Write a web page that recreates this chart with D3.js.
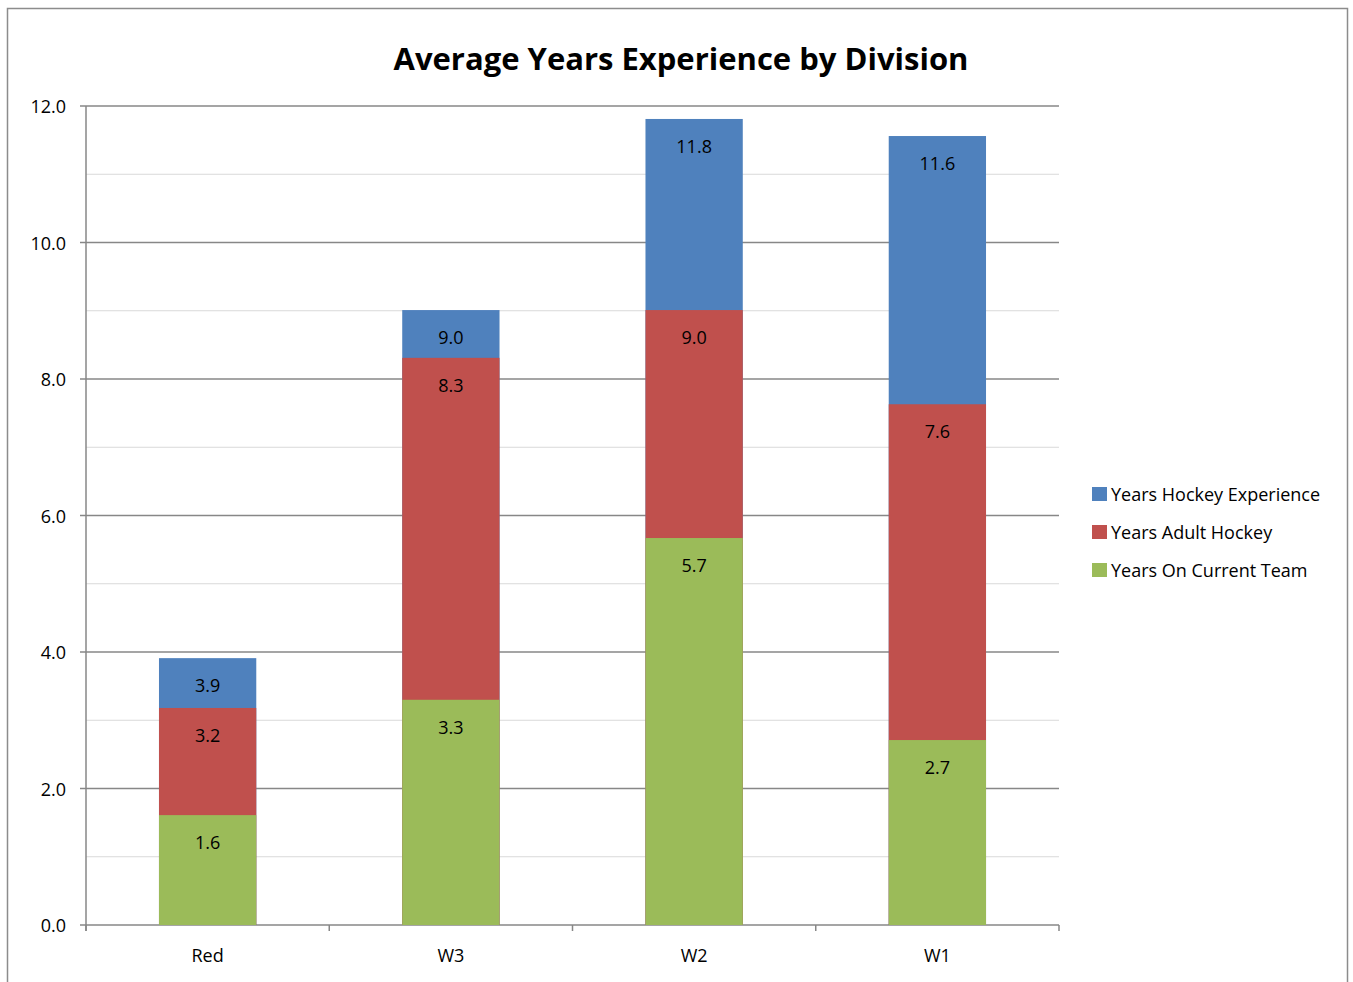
<!DOCTYPE html>
<html>
<head>
<meta charset="utf-8">
<script src="https://cdn.jsdelivr.net/npm/d3@7"></script>
<style>
  body { margin: 0; background: #fff; }
  svg { font-family: "Open Sans", Lato, sans-serif; }
</style>
</head>
<body>
<svg id="chart" width="1353" height="982"></svg>
<script>
const divisions = ["Red", "W3", "W2", "W1"];
const hockeyExperience = [3.91, 9.01, 11.81, 11.56];
const adultHockey = [3.18, 8.31, 9.01, 7.63];
const currentTeam = [1.61, 3.30, 5.67, 2.71];
const seriesNames = ["Years Hockey Experience", "Years Adult Hockey", "Years On Current Team"];
const yTicks = [0, 2, 4, 6, 8, 10, 12];
const yMinorTicks = [1, 3, 5, 7, 9, 11];

const colors = ["#4F81BD", "#C0504D", "#9BBB59"];
const series = [hockeyExperience, adultHockey, currentTeam];

const svg = d3.select("#chart");
const plotLeft = 86, plotRight = 1059, plotTop = 106, plotBottom = 925;

// chart area border
svg.append("rect")
  .attr("x", 7.5).attr("y", 8.5)
  .attr("width", 1340).attr("height", 1000)
  .attr("fill", "none")
  .attr("stroke", "#8c8c8c")
  .attr("stroke-width", 1.5);

svg.append("text")
  .attr("x", 681).attr("y", 70)
  .attr("text-anchor", "middle")
  .attr("font-size", 31)
  .attr("font-weight", "bold")
  .attr("fill", "#000")
  .text("Average Years Experience by Division");

const x = d3.scaleBand()
  .domain(divisions)
  .range([plotLeft, plotRight])
  .paddingInner(0.6)
  .paddingOuter(0.3);

const y = d3.scaleLinear()
  .domain([0, 12])
  .range([plotBottom, plotTop]);

let grid = svg.append("g");
grid.selectAll(".minor")
  .data(yMinorTicks)
  .enter().append("line")
  .attr("x1", plotLeft).attr("x2", plotRight)
  .attr("y1", d => y(d)).attr("y2", d => y(d))
  .attr("stroke", "#d9d9d9")
  .attr("stroke-width", 1);

grid.selectAll(".major")
  .data(yTicks)
  .enter().append("line")
  .attr("x1", plotLeft - 6).attr("x2", plotRight)
  .attr("y1", d => y(d)).attr("y2", d => y(d))
  .attr("stroke", "#878787")
  .attr("stroke-width", 1.5);

// y axis
svg.append("line")
  .attr("x1", plotLeft).attr("x2", plotLeft)
  .attr("y1", plotTop).attr("y2", plotBottom + 6)
  .attr("stroke", "#878787")
  .attr("stroke-width", 1.5);

svg.append("g").selectAll("text")
  .data(yTicks)
  .enter().append("text")
  .attr("x", 66)
  .attr("y", d => y(d) + 7)
  .attr("text-anchor", "end")
  .attr("font-size", 18)
  .attr("fill", "#000")
  .text(d => d3.format(".1f")(d));

// x axis category boundary ticks
const step = x.step();
svg.append("g").selectAll("line")
  .data(d3.range(divisions.length + 1))
  .enter().append("line")
  .attr("x1", i => plotLeft + i * step).attr("x2", i => plotLeft + i * step)
  .attr("y1", plotBottom).attr("y2", plotBottom + 6)
  .attr("stroke", "#878787")
  .attr("stroke-width", 1.5);

svg.append("g").selectAll("text")
  .data(divisions)
  .enter().append("text")
  .attr("x", d => x(d) + x.bandwidth() / 2)
  .attr("y", 962)
  .attr("text-anchor", "middle")
  .attr("font-size", 18)
  .attr("fill", "#000")
  .text(d => d);

// overlapping bars, largest series behind
series.forEach((vals, si) => {
  let g = svg.append("g");
  g.selectAll("rect")
    .data(vals)
    .enter().append("rect")
    .attr("x", (d, i) => x(divisions[i]))
    .attr("y", d => y(d))
    .attr("width", x.bandwidth())
    .attr("height", d => y(0) - y(d))
    .attr("fill", colors[si]);

  g.selectAll("text")
    .data(vals)
    .enter().append("text")
    .attr("x", (d, i) => x(divisions[i]) + x.bandwidth() / 2)
    .attr("y", d => y(d) + 34)
    .attr("text-anchor", "middle")
    .attr("font-size", 18)
    .attr("fill", "#000")
    .text(d => d3.format(".1f")(d));
});

// legend
let legend = svg.append("g")
  .selectAll("g")
  .data(seriesNames)
  .enter().append("g")
  .attr("transform", (d, i) => `translate(1092, ${487 + i * 38})`);

legend.append("rect")
  .attr("width", 15).attr("height", 14)
  .attr("fill", (d, i) => colors[i]);

legend.append("text")
  .attr("x", 19).attr("y", 14)
  .attr("font-size", 18)
  .attr("fill", "#000")
  .text(d => d);
</script>
</body>
</html>
